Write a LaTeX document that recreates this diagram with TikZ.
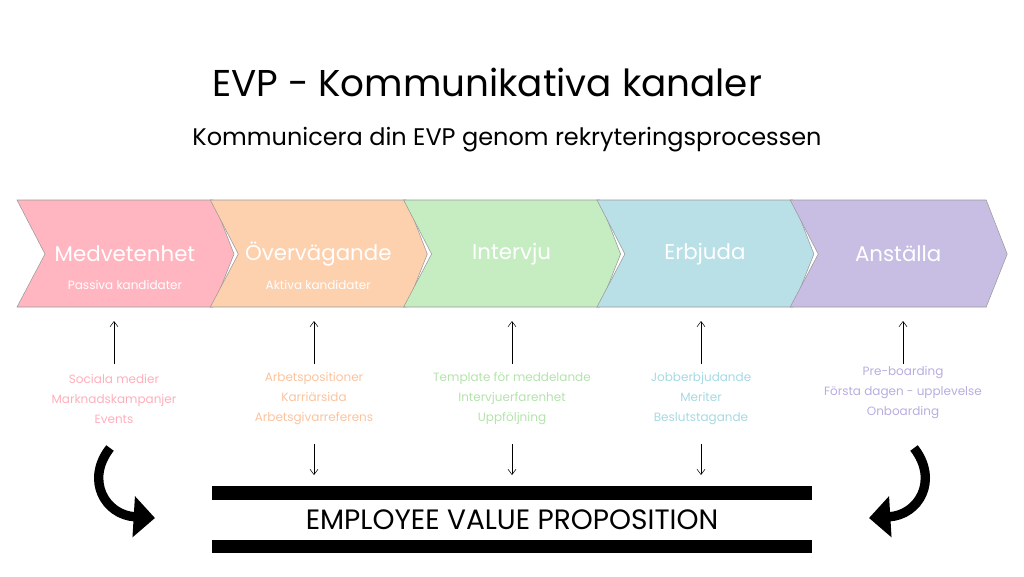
\documentclass[tikz,border=0pt]{standalone}
\usepackage{fontspec}
\setmainfont{Poppins}
\usetikzlibrary{positioning,calc,arrows.meta}
\definecolor{cpink}{HTML}{FFB6C1}
\definecolor{cpeach}{HTML}{FDD0AE}
\definecolor{cgreen}{HTML}{C6EDC2}
\definecolor{cblue}{HTML}{B9E0E6}
\definecolor{cpurple}{HTML}{C8BEE4}
\definecolor{tpink}{HTML}{FFAFBC}
\definecolor{tpeach}{HTML}{FBC39E}
\definecolor{tgreen}{HTML}{B3E3AB}
\definecolor{tblue}{HTML}{A6D9E3}
\definecolor{tpurple}{HTML}{B8ADDF}
\tikzset{
    % stage text
    stagetitle/.style={text=white, font=\fontsize{16}{18}\selectfont},
    stagesub/.style={text=white, font=\fontsize{9}{10}\selectfont},
    channels/.style={align=center, font=\fontsize{9}{15}\selectfont},
    uparrow/.style={-{Straight Barb[length=4pt,width=6pt]}, thin},
    bar/.style={fill=black},
}
\begin{document}
\begin{tikzpicture}[x=0.75pt,y=-0.75pt]
\useasboundingbox (0,0) rectangle (1024,576);
%Title
\node (title) at (487,82) {\fontsize{28}{33}\selectfont EVP - Kommunikativa kanaler};
\node (subtitle) at (507,140) {\fontsize{18}{22}\selectfont Kommunicera din EVP genom rekryteringsprocessen};

%Chevrons
\foreach \i/\col/\name in {0/cpink/med,1/cpeach/ove,2/cgreen/int,3/cblue/erb,4/cpurple/ans}{
  \pgfmathsetmacro{\xl}{17+193.3*\i}
  \filldraw[fill=\col, draw=gray!80, thin]
    (\xl,200) -- ++(196,0) -- ++(21,54) -- ++(-21,53) -- ++(-196,0) -- ++(28,-53) -- cycle;
  \coordinate (\name) at (\xl+108,254);
}
\node[stagetitle] at (med) {Medvetenhet};
\node[stagesub] at ($(med)+(0,31)$) {Passiva kandidater};
\node[stagetitle] at (ove) {Övervägande};
\node[stagesub] at ($(ove)+(0,31)$) {Aktiva kandidater};
\node[stagetitle] at (int) {Intervju};
\node[stagetitle] at (erb) {Erbjuda};
\node[stagetitle] at (ans) {Anställa};

%Channels
\node[channels, text=tpink] (ch1) at (114,399) {Sociala medier\\Marknadskampanjer\\Events};
\node[channels, text=tpeach] (ch2) at (314,399) {Arbetspositioner\\Karriärsida\\Arbetsgivarreferens};
\node[channels, text=tgreen] (ch3) at (512,399) {Template för meddelande\\Intervjuerfarenhet\\Uppföljning};
\node[channels, text=tblue] (ch4) at (701,399) {Jobberbjudande\\Meriter\\Beslutstagande};
\node[channels, text=tpurple] (ch5) at (903,393) {Pre-boarding\\Första dagen - upplevelse\\Onboarding};

\foreach \x in {114,314,512,701,903}{
  \draw[uparrow] (\x,364) -- (\x,321);
}
\foreach \x in {314,512,701}{
  \draw[uparrow] (\x,444) -- (\x,475);
}

%EVP
\fill[bar] (212,486) rectangle (812,500);
\fill[bar] (212,540) rectangle (812,553);
\node (evp) at (512,520) {\fontsize{21}{24}\selectfont EMPLOYEE VALUE PROPOSITION};

%Curved arrows
\draw[line width=7pt, -{Triangle[length=16pt,width=30pt]}] (110,448) .. controls (85,480) and (105,515) .. (155,518);
\draw[line width=7pt, -{Triangle[length=16pt,width=30pt]}] (914,448) .. controls (939,480) and (919,515) .. (869,518);
\end{tikzpicture}
\end{document}
